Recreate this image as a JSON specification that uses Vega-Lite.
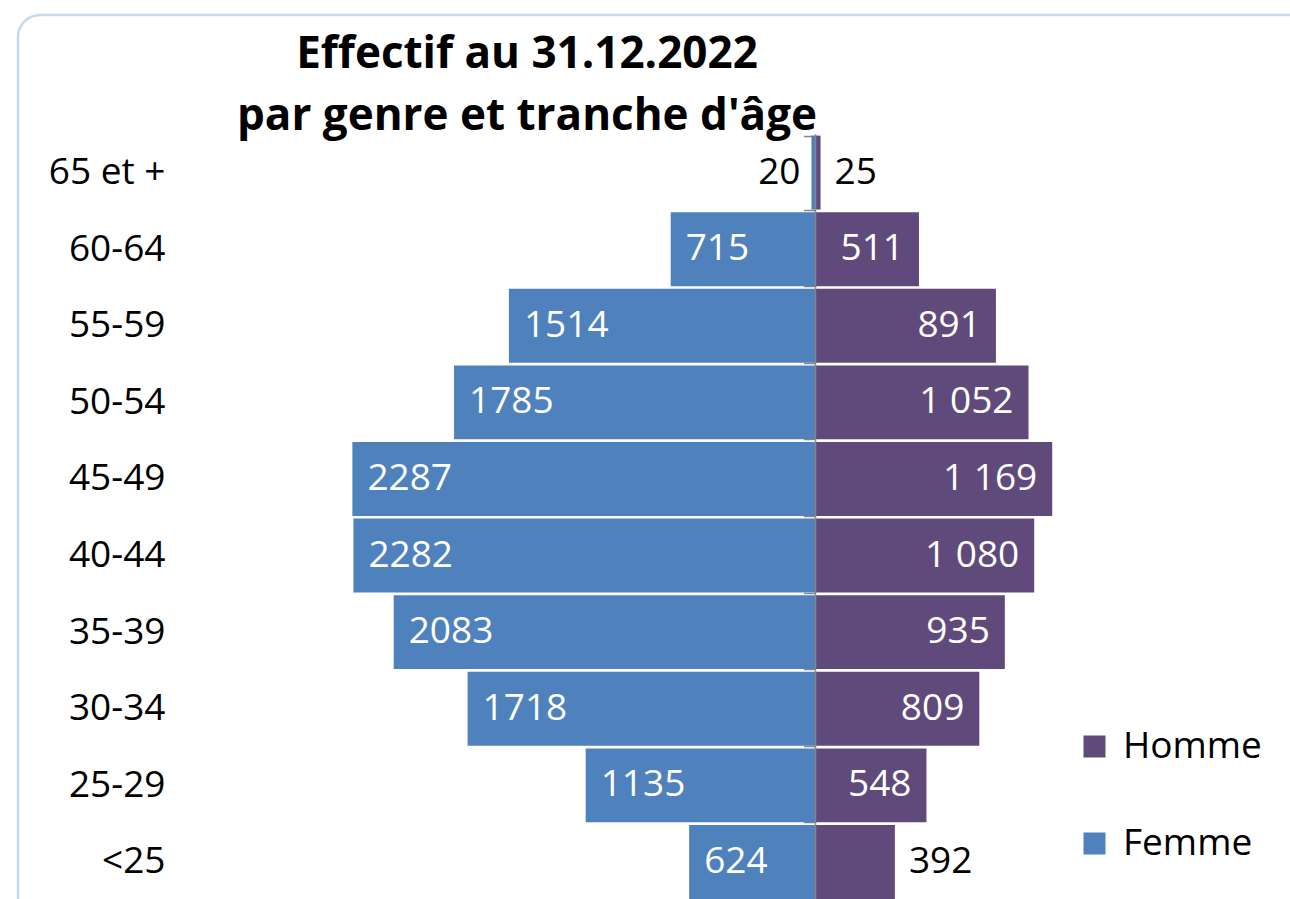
{
  "$schema": "https://vega.github.io/schema/vega-lite/v6.json",
  "width": 1302,
  "height": 914,
  "autosize": {"type": "none"},
  "padding": {"left": 18, "top": 15, "right": -30, "bottom": -30},
  "background": "white",
  "config": {
    "view": {"stroke": "#C6D9F1", "strokeWidth": 2.5, "cornerRadius": 22},
    "font": "Open Sans"
  },
  "title": {
    "text": ["Effectif au 31.12.2022", "par genre et tranche d'âge"],
    "font": "Open Sans",
    "fontWeight": "bold",
    "fontSize": 44,
    "lineHeight": 62,
    "color": "#000000",
    "anchor": "middle",
    "frame": "group",
    "dx": -142,
    "offset": -143
  },
  "data": {
    "values": [
      {"age": "65 et +", "genre": "Femme", "value": 20, "label": "20"},
      {"age": "60-64", "genre": "Femme", "value": 715, "label": "715"},
      {"age": "55-59", "genre": "Femme", "value": 1514, "label": "1514"},
      {"age": "50-54", "genre": "Femme", "value": 1785, "label": "1785"},
      {"age": "45-49", "genre": "Femme", "value": 2287, "label": "2287"},
      {"age": "40-44", "genre": "Femme", "value": 2282, "label": "2282"},
      {"age": "35-39", "genre": "Femme", "value": 2083, "label": "2083"},
      {"age": "30-34", "genre": "Femme", "value": 1718, "label": "1718"},
      {"age": "25-29", "genre": "Femme", "value": 1135, "label": "1135"},
      {"age": "<25", "genre": "Femme", "value": 624, "label": "624"},
      {"age": "65 et +", "genre": "Homme", "value": 25, "label": "25"},
      {"age": "60-64", "genre": "Homme", "value": 511, "label": "511"},
      {"age": "55-59", "genre": "Homme", "value": 891, "label": "891"},
      {"age": "50-54", "genre": "Homme", "value": 1052, "label": "1 052"},
      {"age": "45-49", "genre": "Homme", "value": 1169, "label": "1 169"},
      {"age": "40-44", "genre": "Homme", "value": 1080, "label": "1 080"},
      {"age": "35-39", "genre": "Homme", "value": 935, "label": "935"},
      {"age": "30-34", "genre": "Homme", "value": 809, "label": "809"},
      {"age": "25-29", "genre": "Homme", "value": 548, "label": "548"},
      {"age": "<25", "genre": "Homme", "value": 392, "label": "392"}
    ]
  },
  "encoding": {
    "y": {
      "field": "age",
      "type": "nominal",
      "sort": ["65 et +", "60-64", "55-59", "50-54", "45-49", "40-44", "35-39", "30-34", "25-29", "<25"],
      "scale": {"paddingInner": 0.035, "paddingOuter": 0.9836, "align": 0.8004},
      "axis": {
        "title": null,
        "orient": "left",
        "offset": -797.5,
        "domain": false,
        "ticks": true,
        "tickBand": "extent",
        "tickSize": 12,
        "tickColor": "#868686",
        "tickWidth": 1.5,
        "labelPadding": 638.5,
        "labelFont": "Open Sans",
        "labelFontSize": 37,
        "labelColor": "#000000",
        "labelAlign": "right",
        "labelBaseline": "middle"
      }
    }
  },
  "layer": [
    {
      "transform": [{"filter": "datum.genre === 'Femme'"}],
      "encoding": {
        "x": {
          "field": "value",
          "type": "quantitative",
          "scale": {"domain": [-2491.4, 3938.3], "reverse": true, "nice": false, "zero": false},
          "axis": null
        }
      },
      "layer": [
        {
          "mark": {"type": "bar"},
          "encoding": {
            "color": {
              "field": "genre",
              "type": "nominal",
              "scale": {"domain": ["Homme", "Femme"], "range": ["#604A7B", "#4F81BD"]},
              "legend": {
                "title": null,
                "orient": "none",
                "legendX": 1058,
                "legendY": 713,
                "direction": "vertical",
                "padding": 0,
                "symbolType": "square",
                "symbolSize": 484,
                "symbolStrokeWidth": 0,
                "labelFont": "Open Sans",
                "labelFontSize": 37,
                "labelColor": "#000000",
                "labelOffset": 10,
                "rowPadding": 59
              }
            }
          }
        },
        {
          "transform": [{"filter": "datum.value >= 100"}],
          "mark": {"type": "text", "align": "left", "baseline": "middle", "dx": 15, "fontSize": 37, "font": "Open Sans", "color": "#FFFFFF"},
          "encoding": {"text": {"field": "label"}}
        },
        {
          "transform": [{"filter": "datum.value < 100"}],
          "mark": {"type": "text", "align": "right", "baseline": "middle", "dx": -11, "fontSize": 37, "font": "Open Sans", "color": "#000000"},
          "encoding": {"text": {"field": "label"}}
        }
      ]
    },
    {
      "transform": [{"filter": "datum.genre === 'Homme'"}],
      "encoding": {
        "x": {
          "field": "value",
          "type": "quantitative",
          "scale": {"domain": [-3938.3, 2491.4], "nice": false, "zero": false},
          "axis": null
        }
      },
      "layer": [
        {
          "mark": {"type": "bar"},
          "encoding": {
            "color": {"field": "genre", "type": "nominal"}
          }
        },
        {
          "transform": [{"filter": "datum.value >= 500"}],
          "mark": {"type": "text", "align": "right", "baseline": "middle", "dx": -15, "fontSize": 37, "font": "Open Sans", "color": "#FFFFFF"},
          "encoding": {"text": {"field": "label"}}
        },
        {
          "transform": [{"filter": "datum.value < 500"}],
          "mark": {"type": "text", "align": "left", "baseline": "middle", "dx": 14, "fontSize": 37, "font": "Open Sans", "color": "#000000"},
          "encoding": {"text": {"field": "label"}}
        },
        {
          "mark": {"type": "bar", "fill": null, "fillOpacity": 0, "stroke": "#868686", "strokeWidth": 1.5, "height": {"band": 1.0363}},
          "encoding": {
            "x": {"datum": 0},
            "x2": {"datum": 0}
          }
        }
      ]
    }
  ],
  "resolve": {"scale": {"x": "independent"}}
}
